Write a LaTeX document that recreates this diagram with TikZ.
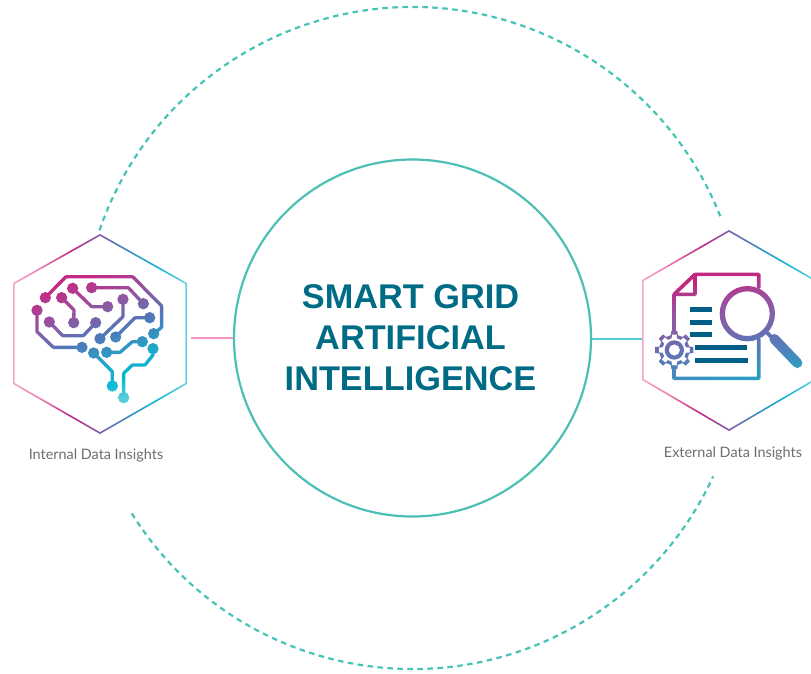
\documentclass[tikz,border=0pt]{standalone}
\usepackage{fontspec}
\setmainfont{Liberation Sans}
\newfontfamily\labelfont{Lato}
\usepackage{tikz}

\definecolor{ringgreen}{HTML}{4DBFB5}
\definecolor{dashgreen}{HTML}{45C4B5}
\definecolor{titleteal}{HTML}{006B84}
\definecolor{barblue}{HTML}{005F86}
\definecolor{labelgray}{HTML}{6D6D6D}

\definecolor{HexA}{HTML}{F5A5C8}
\definecolor{HexB}{HTML}{EE7FB3}
\definecolor{HexC}{HTML}{C22A85}
\definecolor{HexD}{HTML}{7F5FA8}
\definecolor{HexE}{HTML}{3A8FC0}
\definecolor{HexF}{HTML}{0FB8D3}
\definecolor{HexG}{HTML}{70D0E0}
\pgfdeclarehorizontalshading{hexshade}{100bp}{
  color(0bp)=(HexA); color(25bp)=(HexA); color(32.5bp)=(HexB); color(41.5bp)=(HexC);
  color(50bp)=(HexD); color(58.5bp)=(HexE); color(66.5bp)=(HexF); color(75bp)=(HexG); color(100bp)=(HexG)}

\definecolor{BrA}{HTML}{C42A85}
\definecolor{BrB}{HTML}{8A5CA5}
\definecolor{BrC}{HTML}{5078B8}
\definecolor{BrD}{HTML}{1FA8CA}
\definecolor{BrE}{HTML}{06BAD4}
\definecolor{BrF}{HTML}{5ACCDC}
\pgfdeclarehorizontalshading{brainshade}{100bp}{
  color(0bp)=(BrA); color(32bp)=(BrA); color(43bp)=(BrB); color(50bp)=(BrC);
  color(59bp)=(BrD); color(65bp)=(BrE); color(70bp)=(BrF); color(100bp)=(BrF)}

\definecolor{DocA}{HTML}{C2287F}
\definecolor{DocB}{HTML}{9A4FA0}
\definecolor{DocC}{HTML}{8560A5}
\definecolor{DocD}{HTML}{6570B5}
\definecolor{DocE}{HTML}{4A85BC}
\definecolor{DocF}{HTML}{2E9CC4}
\pgfdeclarehorizontalshading{docshade}{100bp}{
  color(0bp)=(DocA); color(36bp)=(DocA); color(43bp)=(DocB); color(49bp)=(DocC);
  color(55bp)=(DocD); color(61bp)=(DocE); color(66bp)=(DocF); color(100bp)=(DocF)}

% offsets of a wire piece from its centre line
\newcommand{\offx}{(\ya-\yb)/veclen(\xb-\xa,\yb-\ya)*\hw}
\newcommand{\offy}{(\xa-\xb)/veclen(\xb-\xa,\yb-\ya)*\hw}

\tikzset{
  zoomed/.style={x=0.33333pt,y=-0.33333pt},
  bigdash/.style={dashgreen,line width=2.2pt,dash pattern=on 5.5pt off 4.5pt},
  insight/.style={font=\labelfont\fontsize{14.4}{16}\selectfont,text=labelgray,inner sep=0pt},
  brainfill/.style={shading=brainshade,shading angle=-70},
  docfill/.style={shading=docshade,shading angle=-80},
}

\begin{document}
\begin{tikzpicture}[x=1pt,y=1pt]
  \useasboundingbox (0,0) rectangle (811,-673);

  \node[circle,draw=ringgreen,line width=2.2pt,minimum size=357pt,inner sep=0pt] (grid) at (412.5,-338) {};
  \node[align=center,text=titleteal,font=\bfseries\fontsize{34.3}{41}\selectfont] (title) at (410.5,-337.5)
        {SMART GRID\\ARTIFICIAL\\INTELLIGENCE};

  \draw[bigdash] (412.5,-338) ++(161:331) arc (161:21.5:331);
  \draw[bigdash] (412.5,-338) ++(212:331) arc (212:335.3:331);

  \shade[shading=hexshade,even odd rule]
    (100,-234) -- (187,-283) -- (187,-384) -- (100,-434) -- (13,-384) -- (13,-283) -- cycle
    (100,-235.85) -- (185.4,-283.92) -- (185.4,-383.08) -- (100,-432.15) -- (14.6,-383.08) -- (14.6,-283.92) -- cycle;
  \shade[shading=hexshade,even odd rule]
    (729,-230) -- (816,-280) -- (816,-380) -- (729,-431) -- (642,-380) -- (642,-280) -- cycle
    (729,-231.85) -- (814.4,-280.92) -- (814.4,-379.08) -- (729,-429.15) -- (643.6,-379.08) -- (643.6,-280.92) -- cycle;

  \coordinate (leftport) at (191,-338);
  \coordinate (rightport) at (642,-339);
  \draw[line width=2.8pt,color=HexA!60!HexB] (leftport) -- (grid.west |- leftport);
  \draw[line width=2.8pt,color=HexG!70!HexF] (grid.east |- rightport) -- (rightport);

  % brain, in zoomed pixels
  \begin{scope}[shift={(0,-220)},zoomed]
    \begin{scope}
      \clip
        \foreach \xa/\ya/\xb/\yb in {136/233/198/170,198/170/398/170,398/170/485/258,485/258/485/322,485/322/461/341,
            218/205/275/260,275/260/323/260,275/203/385/203,385/203/430/251,185/233/222/270,222/270/221/308,
            111/271/111/335,111/335/160/382,160/382/246/382,148/306/188/347,188/347/250/347,250/347/287/308,
            369/238/369/290,369/290/300/356,347/351/405/293,405/293/449/293,320/397/360/397,360/397/397/365,397/365/427/365,
            281/399/337/455,337/455/337/498,459/386/459/405,459/405/435/435,435/435/397/435,397/435/371/460,371/460/371/533}
          {[/utils/exec=\def\hw{5}]
           ({\xa-\offx},{\ya+\offy}) -- ({\xb-\offx},{\yb+\offy}) -- ({\xb+\offx},{\yb-\offy}) -- ({\xa+\offx},{\ya-\offy}) -- cycle
           (\xb+5,\yb) arc[start angle=0,end angle=360,radius=5]}
        \foreach \x/\y in {136/233,218/205,275/203,111/271,185/233,323/260,430/251,369/238,221/308,148/306,
            287/308,449/293,300/356,347/351,461/341,427/365,246/382,281/399,320/397,459/386,337/498,371/533}
          {(\x+17,\y) arc[start angle=0,end angle=360,radius=17]};
      \shade[brainfill] (40,100) rectangle (540,600);
    \end{scope}
  \end{scope}

  % document, gear and magnifier, in zoomed pixels
  \begin{scope}[shift={(590,-215)},zoomed]
    \begin{scope}
      \clip
        \foreach \xa/\ya/\xb/\yb/\wd in {506/218/506/178/5.5,506/178/315/178/5.5,315/178/252/238/5.5,252/238/252/352/5.5,
            315/178/315/238/5.5,315/238/252/238/5.5,252/455/252/490/5.5,252/490/506/490/5.5,506/490/506/372/5.5,
            528/350/552/374/6,553/372/622/444/15}
          {[/utils/exec=\let\hw\wd]
           ({\xa-\offx},{\ya+\offy}) -- ({\xb-\offx},{\yb+\offy}) -- ({\xb+\offx},{\yb-\offy}) -- ({\xa+\offx},{\ya-\offy}) -- cycle
           (\xb+\wd,\yb) arc[start angle=0,end angle=360,radius=\wd]
           (\xa+\wd,\ya) arc[start angle=0,end angle=360,radius=\wd]};
      \shade[docfill] (160,80) rectangle (660,580);
    \end{scope}
    \begin{scope}[even odd rule]
      \clip (472,296) circle[radius=83] (472,296) circle[radius=67];
      \shade[docfill] (160,80) rectangle (660,580);
    \end{scope}
    \begin{scope}[even odd rule]
      \clip (253,405) circle[radius=29] (253,405) circle[radius=17]
        \foreach \r/\t in {46/58,36/47}
          {(253,405) ++(77:\r) \foreach \a in {0,45,...,315}
            {-- ([shift={(253,405)}]\a+77:\r) -- ([shift={(253,405)}]\a+81:\t) -- ([shift={(253,405)}]\a+99:\t) -- ([shift={(253,405)}]\a+103:\r)} -- cycle};
      \shade[docfill] (160,80) rectangle (660,580);
    \end{scope}
    \foreach \xa/\xb/\y in {300/366/283,300/366/322,300/366/358,315/471/397,315/474/436}
      \draw[barblue,line width=4.6pt] (\xa,\y) -- (\xb,\y);
  \end{scope}

  \node[insight] (internal) at (96,-455.5) {Internal Data Insights};
  \node[insight] (external) at (733,-453.5) {External Data Insights};
\end{tikzpicture}
\end{document}
